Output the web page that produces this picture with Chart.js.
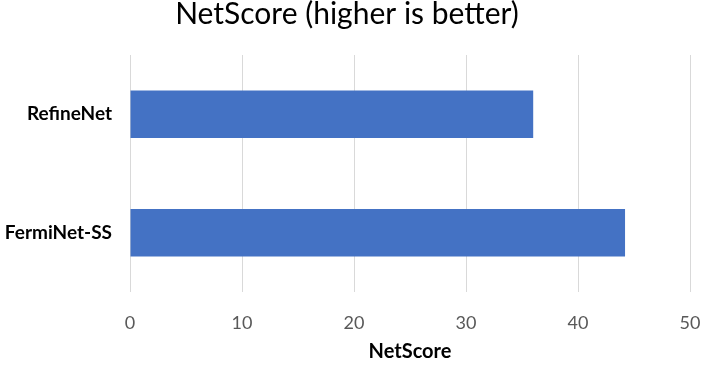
<!DOCTYPE html>
<html>
<head>
<meta charset="utf-8">
<script src="https://cdn.jsdelivr.net/npm/chart.js@4/dist/chart.umd.min.js"></script>
<style>
  body { margin: 0; background: #fff; }
</style>
</head>
<body>
<canvas id="myChart" width="713" height="370"></canvas>
<script>
const modelos = ['RefineNet', 'FermiNet-SS'];
const netScore = [36.0, 44.2];
const xTicks = [0, 10, 20, 30, 40, 50];

const ctx = document.getElementById('myChart');
new Chart(ctx, {
  type: 'bar',
  data: {
    labels: modelos,
    datasets: [{
      label: 'NetScore',
      data: netScore,
      backgroundColor: '#4472C4',
      barPercentage: 0.4,
      categoryPercentage: 1.0
    }]
  },
  options: {
    indexAxis: 'y',
    responsive: false,
    animation: false,
    layout: { padding: { left: 4, right: 23, top: 0, bottom: 6 } },
    plugins: {
      legend: { display: false },
      tooltip: { enabled: false },
      title: {
        display: true,
        text: 'NetScore (higher is better)',
        color: '#000',
        font: { family: 'Lato', size: 30, weight: 'normal' },
        padding: { top: -4, bottom: 23 }
      }
    },
    scales: {
      x: {
        min: xTicks[0],
        max: xTicks[xTicks.length - 1],
        afterBuildTicks: axis => { axis.ticks = xTicks.map(v => ({ value: v })); },
        afterFit: axis => {
          axis.height = 72;
          axis.paddingLeft = 0;
          axis.paddingRight = 0;
        },
        grid: { color: '#d9d9d9', drawTicks: false },
        border: { display: false },
        ticks: { color: '#595959', padding: 20, font: { family: 'Lato', size: 18 } },
        title: {
          display: true,
          text: 'NetScore',
          color: '#000',
          font: { family: 'Lato', size: 20, weight: 'bold' },
          padding: { top: 0, bottom: 0 }
        }
      },
      y: {
        afterFit: axis => { axis.width = 126; },
        grid: { display: false },
        border: { display: false },
        ticks: { color: '#000', padding: 10, font: { family: 'Lato', size: 19, weight: 'bold' } }
      }
    }
  }
});
</script>
</body>
</html>
